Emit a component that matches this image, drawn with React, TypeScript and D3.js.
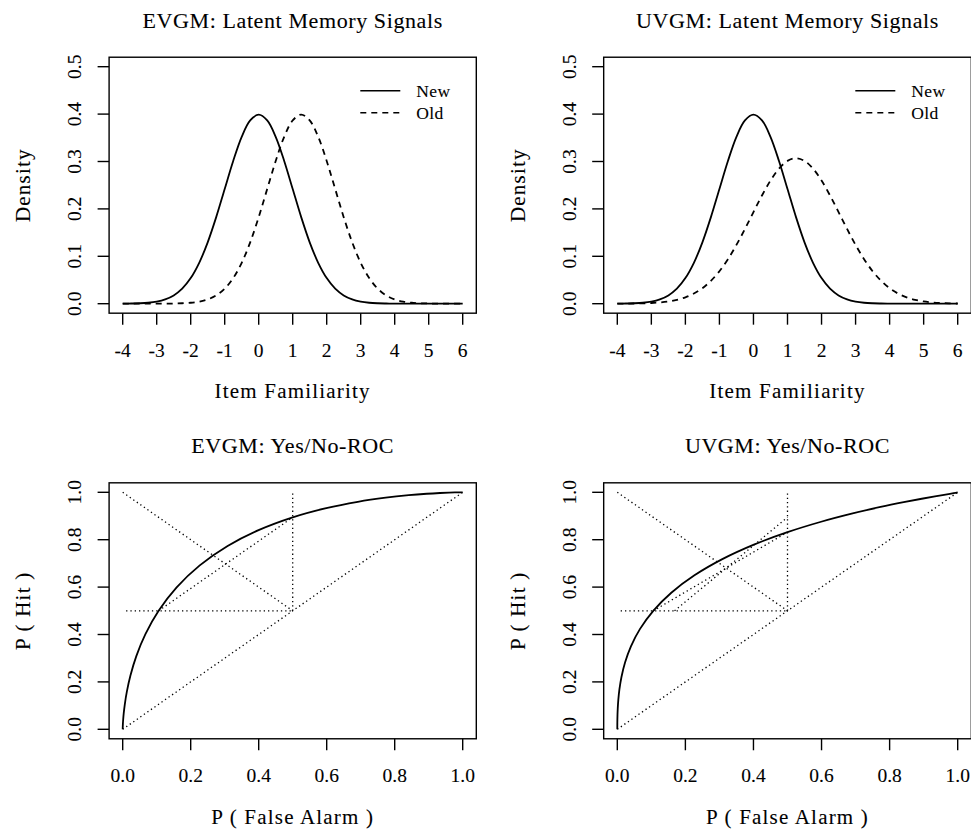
import React from 'react';
import * as d3 from 'd3';

// ---------- DATA ----------
const familiarity = [-4, -3.75, -3.5, -3.25, -3, -2.75, -2.5, -2.25, -2, -1.75, -1.5, -1.25, -1, -0.75, -0.5, -0.25, 0, 0.25, 0.5, 0.75, 1, 1.25, 1.5, 1.75, 2, 2.25, 2.5, 2.75, 3, 3.25, 3.5, 3.75, 4, 4.25, 4.5, 4.75, 5, 5.25, 5.5, 5.75, 6];
const densityNew = [0.0001, 0.0004, 0.0009, 0.0020, 0.0044, 0.0091, 0.0175, 0.0317, 0.0540, 0.0863, 0.1295, 0.1826, 0.2420, 0.3011, 0.3521, 0.3867, 0.3989, 0.3867, 0.3521, 0.3011, 0.2420, 0.1826, 0.1295, 0.0863, 0.0540, 0.0317, 0.0175, 0.0091, 0.0044, 0.0020, 0.0009, 0.0004, 0.0001, 0.0000, 0.0000, 0.0000, 0.0000, 0.0000, 0.0000, 0.0000, 0.0000];
const densityOldEV = [0.0000, 0.0000, 0.0000, 0.0000, 0.0000, 0.0001, 0.0004, 0.0009, 0.0020, 0.0044, 0.0091, 0.0175, 0.0317, 0.0540, 0.0863, 0.1295, 0.1826, 0.2420, 0.3011, 0.3521, 0.3867, 0.3989, 0.3867, 0.3521, 0.3011, 0.2420, 0.1826, 0.1295, 0.0863, 0.0540, 0.0317, 0.0175, 0.0091, 0.0044, 0.0020, 0.0009, 0.0004, 0.0001, 0.0000, 0.0000, 0.0000];
const densityOldUV = [0.0001, 0.0002, 0.0004, 0.0008, 0.0015, 0.0027, 0.0048, 0.0082, 0.0135, 0.0214, 0.0327, 0.0483, 0.0686, 0.0940, 0.1240, 0.1577, 0.1933, 0.2283, 0.2598, 0.2850, 0.3013, 0.3069, 0.3013, 0.2850, 0.2598, 0.2283, 0.1933, 0.1577, 0.1240, 0.0940, 0.0686, 0.0483, 0.0327, 0.0214, 0.0135, 0.0082, 0.0048, 0.0027, 0.0015, 0.0008, 0.0004];

const rocFalseAlarmEV = [0, 0.0000034, 0.0000107, 0.0000317, 0.0000884, 0.000233, 0.000577, 0.00135, 0.00298, 0.00621, 0.01222, 0.02275, 0.04006, 0.06681, 0.10565, 0.15866, 0.22663, 0.30854, 0.40129, 0.5, 0.59871, 0.69146, 0.77337, 0.84134, 0.89435, 0.93319, 0.95994, 0.97725, 0.98778, 0.99379, 0.99702, 0.99865, 1];
const rocHitEV = [0, 0.000577, 0.00135, 0.00298, 0.00621, 0.01222, 0.02275, 0.04006, 0.06681, 0.10565, 0.15866, 0.22663, 0.30854, 0.40129, 0.5, 0.59871, 0.69146, 0.77337, 0.84134, 0.89435, 0.93319, 0.95994, 0.97725, 0.98778, 0.99379, 0.99702, 0.99865, 0.999423, 0.999767, 0.999912, 0.999968, 0.999989, 1];
const rocFalseAlarmUV = [0, 0.0000003, 0.0000034, 0.0000107, 0.0000317, 0.0000884, 0.000233, 0.000577, 0.00135, 0.00298, 0.00621, 0.01222, 0.02275, 0.04006, 0.06681, 0.10565, 0.15866, 0.22663, 0.30854, 0.40129, 0.5, 0.59871, 0.69146, 0.77337, 0.84134, 0.89435, 0.93319, 0.95994, 0.97725, 0.98778, 0.99379, 0.99702, 0.99865, 1];
const rocHitUV = [0, 0.00196, 0.00621, 0.01051, 0.01720, 0.02723, 0.04175, 0.06197, 0.08913, 0.12429, 0.16815, 0.22089, 0.28200, 0.35027, 0.42375, 0.5, 0.57625, 0.64973, 0.71800, 0.77911, 0.83185, 0.87571, 0.91087, 0.93803, 0.95825, 0.97277, 0.98280, 0.98949, 0.99379, 0.99645, 0.99804, 0.99895, 0.99946, 1];

// reference segments: [x1, y1, x2, y2]
const refSegmentsEV = [
  [0, 0, 1, 1],
  [0, 1, 0.5, 0.5],
  [0.5, 0.5, 0.5, 1],
  [0.01, 0.5, 0.5, 0.5],
  [0.10565, 0.5, 0.5, 0.89435],
];
const refSegmentsUV = [
  [0, 0, 1, 1],
  [0, 1, 0.5, 0.5],
  [0.5, 0.5, 0.5, 1],
  [0.01, 0.5, 0.5, 0.5],
  [0.10565, 0.5, 0.5, 0.83185],
  [0.16815, 0.5, 0.5, 0.89435],
];

const densityXTicks = [-4, -3, -2, -1, 0, 1, 2, 3, 4, 5, 6];
const densityYTicks = [0, 0.1, 0.2, 0.3, 0.4, 0.5];
const densityYLabels = ['0.0', '0.1', '0.2', '0.3', '0.4', '0.5'];
const rocTicks = [0, 0.2, 0.4, 0.6, 0.8, 1];
const rocTickLabels = ['0.0', '0.2', '0.4', '0.6', '0.8', '1.0'];
const legendLabels = ['New', 'Old'];
const panelTitles = ['EVGM: Latent Memory Signals', 'UVGM: Latent Memory Signals', 'EVGM: Yes/No-ROC', 'UVGM: Yes/No-ROC'];
const axisTitles = { densityX: 'Item Familiarity', densityY: 'Density', rocX: 'P ( False Alarm )', rocY: 'P ( Hit )' };

// ---------- STYLE ----------
const FONT = "'Liberation Serif', 'Times New Roman', serif";
const INK = '#000';
const TEXT_STROKE = 0.1;

type Curve = { xs: number[]; ys: number[]; dash?: string };

interface PanelProps {
  title: string;
  xDomain: [number, number];
  xRange: [number, number];
  yDomain: [number, number];
  yRange: [number, number];
  xTicks: number[];
  xTickLabels: string[];
  yTicks: number[];
  yTickLabels: string[];
  xTitle: string;
  yTitle: string;
  curves: Curve[];
  segments?: number[][];
  legend?: boolean;
  smooth: any;
}

function Label(props: any) {
  const { children, ...rest } = props;
  return (
    <text fontFamily={FONT} fill={INK} stroke={INK} strokeWidth={TEXT_STROKE} {...rest}>{children}</text>
  );
}

function Panel(p: PanelProps) {
  const x = d3.scaleLinear().domain(p.xDomain).range(p.xRange);
  const y = d3.scaleLinear().domain(p.yDomain).range(p.yRange);
  const xs = p.xDomain[1] - p.xDomain[0];
  const ys = p.yDomain[1] - p.yDomain[0];
  const left = x(p.xDomain[0] - 0.04 * xs);
  const right = x(p.xDomain[1] + 0.04 * xs);
  const top = y(p.yDomain[1] + 0.04 * ys);
  const bottom = y(p.yDomain[0] - 0.04 * ys);
  const cx = (left + right) / 2;
  const cy = (top + bottom) / 2;
  const line = d3.line<[number, number]>().x((d) => x(d[0])).y((d) => y(d[1])).curve(p.smooth);
  const tickLen = 11.5;
  return (
    <g>
      <Label x={cx} y={top - 29.5} textAnchor="middle" fontSize={22} letterSpacing={0.6}>{p.title}</Label>
      {(p.segments || []).map((s, i) => (
        <line key={'s' + i} x1={x(s[0])} y1={y(s[1])} x2={x(s[2])} y2={y(s[3])} stroke={INK} strokeWidth={1.3} strokeDasharray="1.3,3" />
      ))}
      {p.curves.map((c, i) => (
        <path key={'c' + i} d={line(c.xs.map((v, j) => [v, c.ys[j]] as [number, number])) || ''} fill="none" stroke={INK} strokeWidth={1.8} strokeDasharray={c.dash} />
      ))}
      <rect x={left} y={top} width={right - left} height={bottom - top} fill="none" stroke={INK} strokeWidth={1.4} />
      {p.xTicks.map((t, i) => (
        <g key={'xt' + i}>
          <line x1={x(t)} x2={x(t)} y1={bottom} y2={bottom + tickLen} stroke={INK} strokeWidth={1.4} />
          <Label x={x(t)} y={bottom + 43.5} textAnchor="middle" fontSize={19.5}>{p.xTickLabels[i]}</Label>
        </g>
      ))}
      {p.yTicks.map((t, i) => (
        <g key={'yt' + i}>
          <line x1={left - tickLen} x2={left} y1={y(t)} y2={y(t)} stroke={INK} strokeWidth={1.4} />
          <Label transform={`translate(${left - 27.7},${y(t)}) rotate(-90)`} textAnchor="middle" fontSize={19.5}>{p.yTickLabels[i]}</Label>
        </g>
      ))}
      <Label x={cx} y={bottom + 85} textAnchor="middle" fontSize={21} letterSpacing={1.2}>{p.xTitle}</Label>
      <Label transform={`translate(${left - 79},${cy}) rotate(-90)`} textAnchor="middle" fontSize={21} letterSpacing={1.2}>{p.yTitle}</Label>
      {p.legend && (
        <g>
          {legendLabels.map((lab, i) => (
            <g key={'lg' + i}>
              <line x1={right - 116} x2={right - 76} y1={top + 33.5 + i * 22} y2={top + 33.5 + i * 22} stroke={INK} strokeWidth={1.6} strokeDasharray={i === 1 ? '6,5' : undefined} />
              <Label x={right - 60} y={top + 39.5 + i * 22} fontSize={17.5} letterSpacing={0.4}>{lab}</Label>
            </g>
          ))}
        </g>
      )}
    </g>
  );
}

export default function App() {
  const colX: [number, number][] = [[122.7, 462.7], [617.3, 957.7]];
  const densityY: [number, number] = [303.7, 66.7];
  const rocY: [number, number] = [729.3, 492.3];
  const smoothDensity = d3.curveCatmullRom.alpha(0.5);
  const smoothRoc = d3.curveCatmullRom.alpha(0.5);
  return (
    <svg width={971} height={829} viewBox="0 0 971 829" style={{ position: 'absolute', left: 0, top: 0, background: '#fff' }}>
      <rect x={0} y={0} width={971} height={829} fill="#fff" />
      <Panel
        title={panelTitles[0]}
        xDomain={[-4, 6]} xRange={colX[0]} yDomain={[0, 0.5]} yRange={densityY}
        xTicks={densityXTicks} xTickLabels={densityXTicks.map(String)}
        yTicks={densityYTicks} yTickLabels={densityYLabels}
        xTitle={axisTitles.densityX} yTitle={axisTitles.densityY}
        curves={[{ xs: familiarity, ys: densityNew }, { xs: familiarity, ys: densityOldEV, dash: '6,5' }]}
        legend smooth={smoothDensity}
      />
      <Panel
        title={panelTitles[1]}
        xDomain={[-4, 6]} xRange={colX[1]} yDomain={[0, 0.5]} yRange={densityY}
        xTicks={densityXTicks} xTickLabels={densityXTicks.map(String)}
        yTicks={densityYTicks} yTickLabels={densityYLabels}
        xTitle={axisTitles.densityX} yTitle={axisTitles.densityY}
        curves={[{ xs: familiarity, ys: densityNew }, { xs: familiarity, ys: densityOldUV, dash: '6,5' }]}
        legend smooth={smoothDensity}
      />
      <Panel
        title={panelTitles[2]}
        xDomain={[0, 1]} xRange={colX[0]} yDomain={[0, 1]} yRange={rocY}
        xTicks={rocTicks} xTickLabels={rocTickLabels}
        yTicks={rocTicks} yTickLabels={rocTickLabels}
        xTitle={axisTitles.rocX} yTitle={axisTitles.rocY}
        curves={[{ xs: rocFalseAlarmEV, ys: rocHitEV }]}
        segments={refSegmentsEV} smooth={smoothRoc}
      />
      <Panel
        title={panelTitles[3]}
        xDomain={[0, 1]} xRange={colX[1]} yDomain={[0, 1]} yRange={rocY}
        xTicks={rocTicks} xTickLabels={rocTickLabels}
        yTicks={rocTicks} yTickLabels={rocTickLabels}
        xTitle={axisTitles.rocX} yTitle={axisTitles.rocY}
        curves={[{ xs: rocFalseAlarmUV, ys: rocHitUV }]}
        segments={refSegmentsUV} smooth={smoothRoc}
      />
    </svg>
  );
}
